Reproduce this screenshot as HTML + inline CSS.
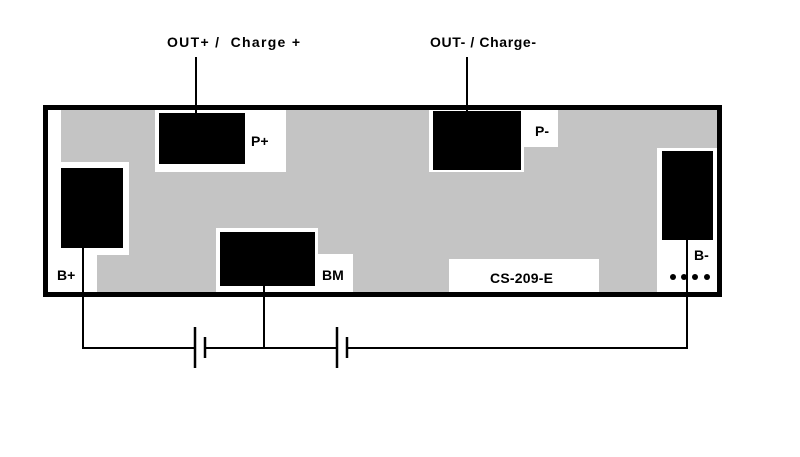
<!DOCTYPE html>
<html><head><style>
body{margin:0;background:#fff;}
svg text{font-family:"Liberation Sans",Arial,sans-serif;font-weight:bold;font-size:14px;fill:#000;}
</style></head><body>
<svg width="800" height="452" viewBox="0 0 800 452" xmlns="http://www.w3.org/2000/svg">
<rect x="0" y="0" width="800" height="452" fill="#fff"/>
<rect x="48" y="110" width="669" height="182" fill="#fff"/>
<rect x="61" y="110" width="656" height="182" fill="#c4c4c4"/>
<path d="M48 162 H129 V255 H97 V292 H48 Z" fill="#fff"/>
<rect x="155" y="110" width="131" height="62" fill="#fff"/>
<path d="M429 110 H558 V147 H524 V172 H429 Z" fill="#fff"/>
<path d="M216 228 H318 V254 H353 V292 H216 Z" fill="#fff"/>
<rect x="657" y="148" width="60" height="144" fill="#fff"/>
<rect x="449" y="259" width="150" height="33" fill="#fff"/>
<rect x="61" y="168" width="62" height="80" fill="#000"/>
<rect x="159" y="113" width="86" height="51" fill="#000"/>
<rect x="433" y="111" width="88" height="59" fill="#000"/>
<rect x="220" y="232" width="95" height="54" fill="#000"/>
<rect x="662" y="151" width="51" height="89" fill="#000"/>
<rect x="45.5" y="107.5" width="674" height="187" fill="none" stroke="#000" stroke-width="5"/>
<g stroke="#000" stroke-width="2" fill="none">
<line x1="196" y1="57" x2="196" y2="113"/>
<line x1="467" y1="57" x2="467" y2="111"/>
<polyline points="83,248 83,348 195,348"/>
<line x1="205" y1="348" x2="337" y2="348"/>
<line x1="264" y1="286" x2="264" y2="348"/>
<polyline points="347,348 687,348 687,240"/>
<line x1="195" y1="327" x2="195" y2="368" stroke-width="2.5"/>
<line x1="205" y1="337" x2="205" y2="358" stroke-width="2.5"/>
<line x1="337" y1="327" x2="337" y2="368" stroke-width="2.5"/>
<line x1="347" y1="337" x2="347" y2="358" stroke-width="2.5"/>
</g>
<g fill="#000">
<circle cx="673" cy="277" r="3"/><circle cx="684" cy="277" r="3"/><circle cx="695" cy="277" r="3"/><circle cx="707" cy="277" r="3"/>
</g>
<text x="167" y="47" textLength="133" lengthAdjust="spacing">OUT+ /&#160; Charge +</text>
<text x="430" y="47" textLength="106" lengthAdjust="spacing">OUT- / Charge-</text>
<text x="251" y="146">P+</text>
<text x="535" y="136">P-</text>
<text x="57" y="280">B+</text>
<text x="322" y="280">BM</text>
<text x="694" y="260">B-</text>
<text x="490" y="283" textLength="63" lengthAdjust="spacing">CS-209-E</text>
</svg>
</body></html>
